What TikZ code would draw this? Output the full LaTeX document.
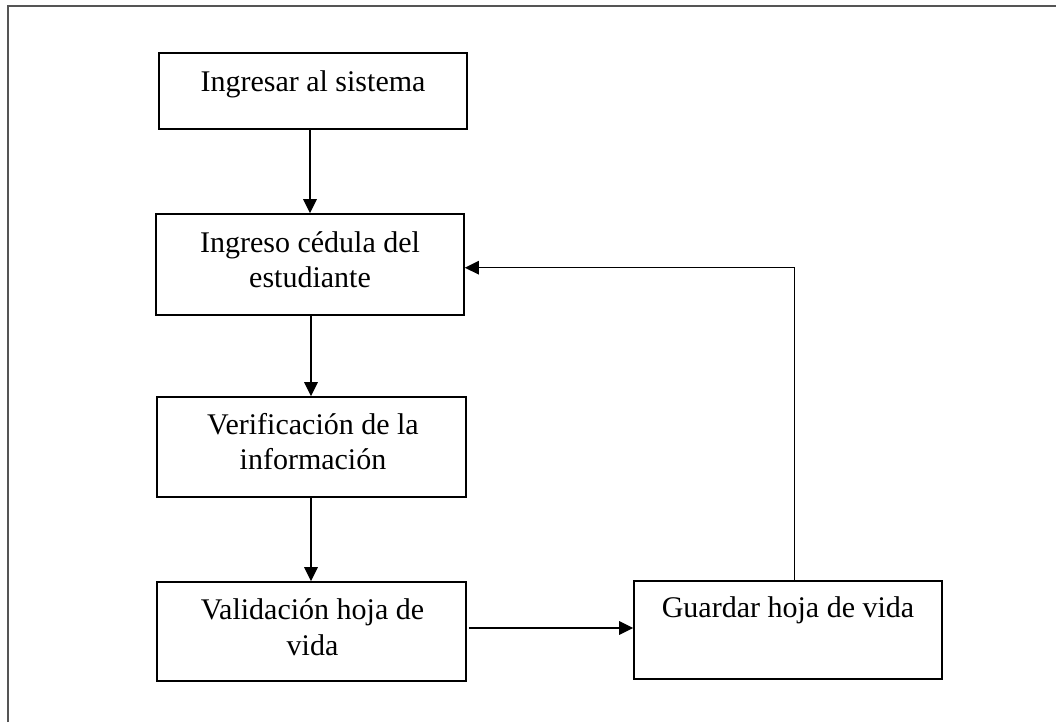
\documentclass[tikz,border=0pt]{standalone}
\usepackage{fontspec}
\setmainfont{Liberation Serif}
\usetikzlibrary{arrows.meta}
\begin{document}
\begin{tikzpicture}[x=1pt,y=-1pt,
  box/.style={draw=black,line width=1.6pt,rectangle,inner sep=0pt},
  txt/.style={inner sep=0pt,align=center,anchor=base,font=\fontsize{30}{35.2}\selectfont},
  arr/.style={line width=1.3pt,-{Triangle[length=14pt,width=13.5pt]}},
  frame/.style={draw={rgb,255:red,85;green,85;blue,85},line width=2pt}]
\useasboundingbox (0,0) rectangle (1056,722);
\draw[frame] (7.5,722) -- (7.5,6.5) -- (1056,6.5);
% boxes
\node[box,minimum width=308pt,minimum height=76pt] (b1) at (313,91) {};
\node[box,minimum width=308pt,minimum height=101pt] (b2) at (310,264.5) {};
\node[box,minimum width=309pt,minimum height=100pt] (b3) at (311.5,447) {};
\node[box,minimum width=309pt,minimum height=99pt] (b4) at (311.5,631.5) {};
\node[box,minimum width=308pt,minimum height=98pt] (b5) at (788,630) {};
% texts
\node[txt] (t1) at (313,91.7) {Ingresar al sistema};
\node[txt] (t2) at (310,287.7) {Ingreso cédula del\\estudiante};
\node[txt] (t3) at (313,469.3) {Verificación de la\\información};
\node[txt] (t4) at (312.5,655) {Validación hoja de\\vida};
\node[txt] (t5) at (788,617.5) {Guardar hoja de vida};
% connector helpers
\coordinate (x1) at (310,0);
\coordinate (x2) at (311,0);
\coordinate (yh) at (0,628);
\coordinate (xf) at (794.3,0);
\coordinate (yf) at (0,267.7);
\draw[arr] (b1.south -| x1) -- (b2.north -| x1);
\draw[arr] (b2.south -| x2) -- (b3.north -| x2);
\draw[arr] (b3.south -| x2) -- (b4.north -| x2);
\draw[arr] ([xshift=2pt]b4.east |- yh) -- (b5.west |- yh);
\draw[arr] (b5.north -| xf) |- (b2.east |- yf);
\end{tikzpicture}
\end{document}
